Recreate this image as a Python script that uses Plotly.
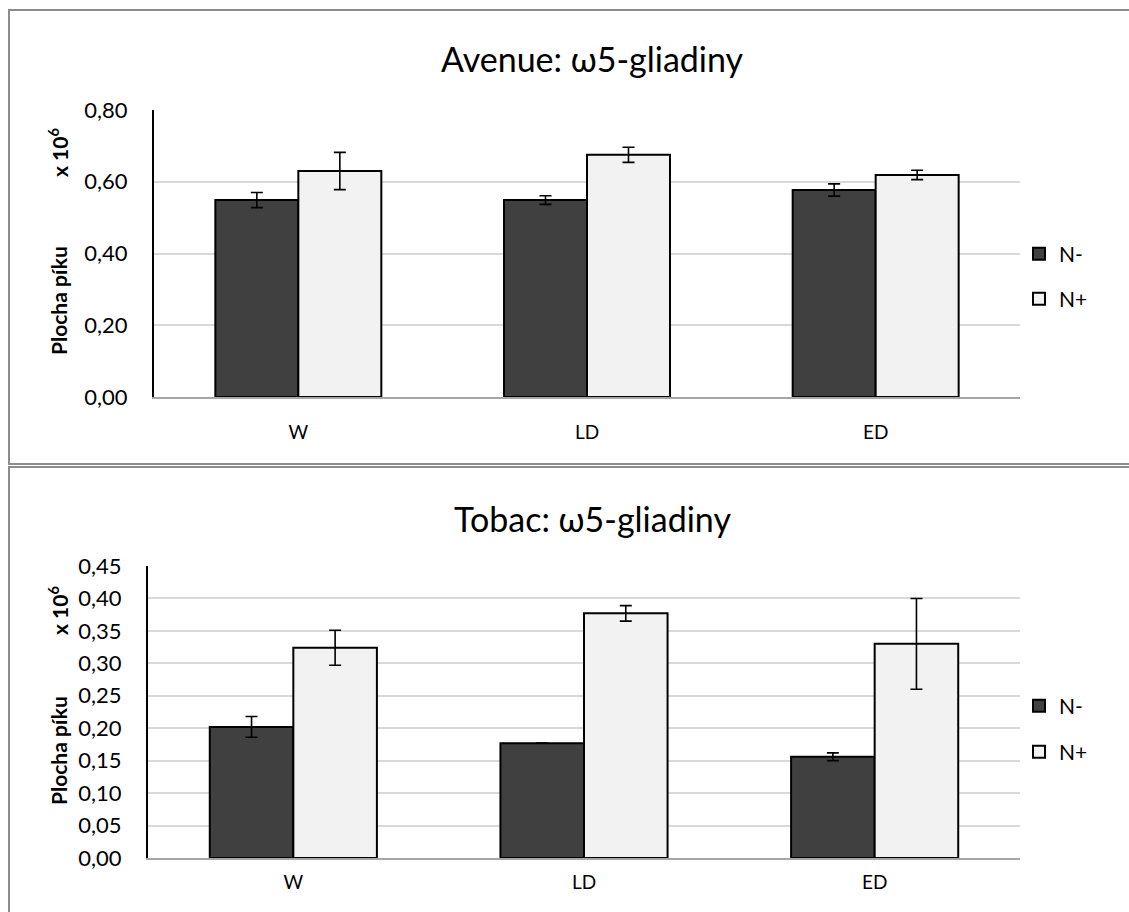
import plotly.graph_objects as go

categories = ["W", "LD", "ED"]
series_names = ["N-", "N+"]

# Avenue panel (values x 10^6)
avenue_nminus = [0.549, 0.549, 0.577]
avenue_nminus_err = [0.021, 0.012, 0.017]
avenue_nplus = [0.630, 0.675, 0.619]
avenue_nplus_err = [0.052, 0.021, 0.013]

# Tobac panel (values x 10^6)
tobac_nminus = [0.202, 0.177, 0.156]
tobac_nminus_err = [0.016, 0.0, 0.006]
tobac_nplus = [0.324, 0.377, 0.330]
tobac_nplus_err = [0.027, 0.012, 0.070]

W, H = 1129, 912
FONT = "Lato, 'Open Sans', 'Liberation Sans', sans-serif"
colors = ["#404040", "#f2f2f2"]

def px_x(p):
    return p / W

def px_y(p):
    return 1 - p / H

fig = go.Figure()

panels = [
    dict(vals=[avenue_nminus, avenue_nplus], errs=[avenue_nminus_err, avenue_nplus_err],
         xaxis="x", yaxis="y", legends=["legend", "legend2"]),
    dict(vals=[tobac_nminus, tobac_nplus], errs=[tobac_nminus_err, tobac_nplus_err],
         xaxis="x2", yaxis="y2", legends=["legend3", "legend4"]),
]

for p in panels:
    for i in range(2):
        fig.add_trace(go.Bar(
            x=categories, y=p["vals"][i], name=series_names[i],
            marker=dict(color=colors[i], line=dict(color="#000000", width=2)),
            error_y=dict(type="data", array=p["errs"][i], visible=True,
                         color="#000000", thickness=1.6, width=6),
            xaxis=p["xaxis"], yaxis=p["yaxis"], legend=p["legends"][i],
        ))

axis_common = dict(showline=True, linecolor="#000000", linewidth=2, ticks="",
                   gridcolor="#d9d9d9", gridwidth=1.5, zeroline=False,
                   tickfont=dict(family=FONT, size=22, color="#000000"),
                   tickformat=".2f", automargin=False, ticklabelstandoff=20)
xaxis_common = dict(showline=True, linecolor="#a6a6a6", linewidth=2, ticks="",
                    showgrid=False, automargin=False,
                    tickfont=dict(family=FONT, size=19, color="#000000"))

def leg(ypix):
    return dict(x=px_x(1019), y=px_y(ypix), xanchor="left", yanchor="middle",
                font=dict(family=FONT, size=21, color="#000000"),
                bgcolor="rgba(0,0,0,0)", itemsizing="constant")

fig.update_layout(
    width=W, height=H,
    margin=dict(l=0, r=0, t=0, b=0, autoexpand=False),
    paper_bgcolor="white", plot_bgcolor="white",
    separators=", ",
    barmode="group", bargap=0.425, bargroupgap=0,
    showlegend=True,
    xaxis=dict(domain=[px_x(154), px_x(1020)], anchor="y", ticklabelstandoff=17,
               **xaxis_common),
    yaxis=dict(domain=[px_y(397), px_y(110)], anchor="x", range=[0, 0.80],
               dtick=0.20, **axis_common),
    xaxis2=dict(domain=[px_x(148), px_x(1020)], anchor="y2", ticklabelstandoff=6,
                **xaxis_common),
    yaxis2=dict(domain=[px_y(858), px_y(566)], anchor="x2", range=[0, 0.45],
                dtick=0.05, **axis_common),
    legend=leg(254),
    legend2=leg(299),
    legend3=leg(706),
    legend4=leg(752),
)

# panel borders
fig.add_shape(type="rect", xref="paper", yref="paper",
              x0=px_x(9), x1=px_x(1140), y0=px_y(464), y1=px_y(10),
              line=dict(color="#8c8c8c", width=2), fillcolor="rgba(0,0,0,0)", layer="below")
fig.add_shape(type="rect", xref="paper", yref="paper",
              x0=px_x(9), x1=px_x(1140), y0=px_y(930), y1=px_y(467),
              line=dict(color="#8c8c8c", width=2), fillcolor="rgba(0,0,0,0)", layer="below")

# titles
fig.add_annotation(text="Avenue: ω5-gliadiny", xref="paper", yref="paper",
                   x=px_x(592), y=px_y(58), showarrow=False,
                   xanchor="center", yanchor="middle",
                   font=dict(family=FONT, size=34, color="#000000"))
fig.add_annotation(text="Tobac: ω5-gliadiny", xref="paper", yref="paper",
                   x=px_x(592), y=px_y(518), showarrow=False,
                   xanchor="center", yanchor="middle",
                   font=dict(family=FONT, size=34, color="#000000"))

# y-axis titles
for yc_x10, yc_pl in [(152, 300), (610, 750)]:
    fig.add_annotation(text="<b>x 10<sup>6</sup></b>", xref="paper", yref="paper",
                       x=px_x(58), y=px_y(yc_x10), showarrow=False, textangle=-90,
                       xanchor="center", yanchor="middle",
                       font=dict(family=FONT, size=21, color="#000000"))
    fig.add_annotation(text="<b>Plocha píku</b>", xref="paper", yref="paper",
                       x=px_x(58), y=px_y(yc_pl), showarrow=False, textangle=-90,
                       xanchor="center", yanchor="middle",
                       font=dict(family=FONT, size=21, color="#000000"))

fig.write_html("out.html", config={"displayModeBar": False},
               post_script="document.body.style.margin='0';document.body.style.overflow='hidden';")
